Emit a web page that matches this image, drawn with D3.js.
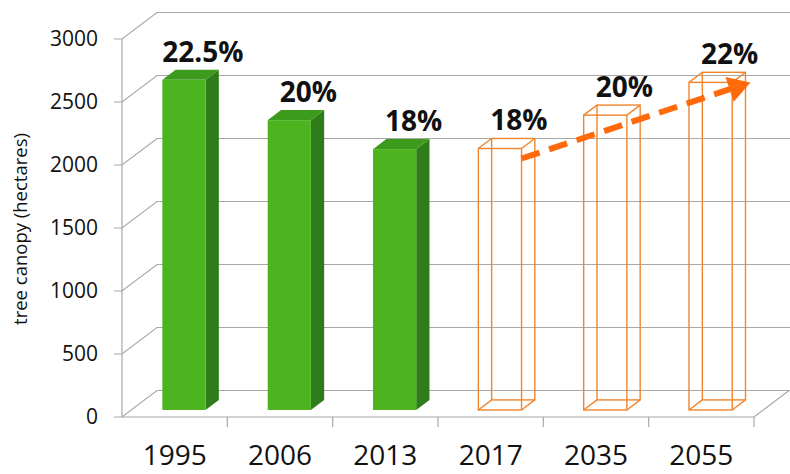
<!DOCTYPE html>
<html>
<head>
<meta charset="utf-8">
<script src="https://cdn.jsdelivr.net/npm/d3@7"></script>
<style>
  body { margin: 0; background: #fff; }
  text { font-family: "Open Sans", sans-serif; fill: #111; }
</style>
</head>
<body>
<div id="chart"></div>
<script>
// chart values
var years = ["1995", "2006", "2013", "2017", "2035", "2055"];
var canopy = [2620, 2300, 2070, 2075, 2340, 2600];
var shares = ["22.5%", "20%", "18%", "18%", "20%", "22%"];
var projected = [false, false, false, true, true, true];
var yTicks = [0, 500, 1000, 1500, 2000, 2500, 3000];
var yTitle = "tree canopy (hectares)";

var width = 790, height = 474;

var svg = d3.select("#chart").append("svg")
    .attr("width", width)
    .attr("height", height);

var x = d3.scaleBand().domain(years)
    .range([122, 754])
    .paddingInner(0.59)
    .paddingOuter(0.295);

var y = d3.scaleLinear().domain([0, 3000]).range([417, 39]);

// depth of the 3d wall and of each bar
var DX = 35, DY = -26.5;
var ox = DX * 0.265, oy = DY * 0.265;
var bx = DX * 0.38, by = DY * 0.38;

var grid = "#a8a8a8";

// back wall gridlines
svg.append("g").selectAll("path")
    .data(yTicks)
    .enter().append("path")
    .attr("d", d => `M114,${y(d)} L122,${y(d)} L${122 + DX},${y(d) + DY} L${width},${y(d) + DY}`)
    .attr("fill", "none")
    .attr("stroke", grid)
    .attr("stroke-width", 1.2);

// front vertical axis
svg.append("line")
    .attr("x1", 122).attr("x2", 122)
    .attr("y1", y(3000)).attr("y2", y(0))
    .attr("stroke", grid).attr("stroke-width", 1.2);

// floor front edge + right diagonal
svg.append("path")
    .attr("d", `M122,${y(0)} L754,${y(0)} L${754 + DX},${y(0) + DY}`)
    .attr("fill", "none")
    .attr("stroke", grid).attr("stroke-width", 1.2);

// category ticks
svg.append("g").selectAll("line")
    .data(years)
    .enter().append("line")
    .attr("x1", d => x(d) - x.step() * x.paddingOuter() + x.step())
    .attr("x2", d => x(d) - x.step() * x.paddingOuter() + x.step())
    .attr("y1", y(0)).attr("y2", y(0) + 10)
    .attr("stroke", grid).attr("stroke-width", 1.2);

// y tick labels
svg.append("g").selectAll("text")
    .data(yTicks)
    .enter().append("text")
    .attr("x", 98)
    .attr("y", d => y(d))
    .attr("dy", "0.35em")
    .attr("text-anchor", "end")
    .style("font-size", "21px")
    .text(d => d);

// y title
svg.append("text")
    .attr("transform", "translate(27,229) rotate(-90)")
    .attr("text-anchor", "middle")
    .style("font-size", "18.5px")
    .text(yTitle);

// x labels
svg.append("g").selectAll("text")
    .data(years)
    .enter().append("text")
    .attr("x", d => x(d) + x.bandwidth() / 2)
    .attr("y", 465)
    .attr("text-anchor", "middle")
    .style("font-size", "28px")
    .text(d => d);

var w = x.bandwidth();
var bars = svg.append("g");

years.forEach(function(yr, i) {
    var x0 = x(yr) + ox;
    var yb = y(0) + oy;
    var yt = y(canopy[i]) + oy;
    var g = bars.append("g");
    if (!projected[i]) {
        g.append("polygon")
            .attr("points", [[x0 + w, yt], [x0 + w + bx, yt + by], [x0 + w + bx, yb + by], [x0 + w, yb]].join(" "))
            .attr("fill", "#2f7d1a");
        g.append("polygon")
            .attr("points", [[x0, yt], [x0 + bx, yt + by], [x0 + w + bx, yt + by], [x0 + w, yt]].join(" "))
            .attr("fill", "#3c9a1d");
        g.append("rect")
            .attr("x", x0).attr("y", yt)
            .attr("width", w).attr("height", yb - yt)
            .attr("fill", "#4cb41f");
    } else {
        var s = "#f0852d";
        var box = function(dx, dy) {
            g.append("rect")
                .attr("x", x0 + dx).attr("y", yt + dy)
                .attr("width", w).attr("height", yb - yt)
                .attr("fill", "none").attr("stroke", s).attr("stroke-width", 1.4);
        };
        box(bx, by);
        box(0, 0);
        [[x0, yt], [x0 + w, yt], [x0, yb], [x0 + w, yb]].forEach(function(p) {
            g.append("line")
                .attr("x1", p[0]).attr("y1", p[1])
                .attr("x2", p[0] + bx).attr("y2", p[1] + by)
                .attr("stroke", s).attr("stroke-width", 1.4);
        });
    }
    g.append("text")
        .attr("x", x0 + w / 2 + 19)
        .attr("y", yt + by - 8)
        .attr("text-anchor", "middle")
        .style("font-size", "28px")
        .style("font-weight", "bold")
        .text(shares[i]);
});

// trend arrow from 2017 to 2055
var a0 = [x(years[3]) + ox + w, y(canopy[3]) + oy + 10];
var a1 = [x(years[5]) + ox + w + bx + 5, y(canopy[5]) + oy];
var ang = Math.atan2(a1[1] - a0[1], a1[0] - a0[0]);
var headLen = 22, headW = 13;
var hb = [a1[0] - headLen * Math.cos(ang), a1[1] - headLen * Math.sin(ang)];

svg.append("line")
    .attr("x1", a0[0]).attr("y1", a0[1])
    .attr("x2", hb[0] + 3 * Math.cos(ang)).attr("y2", hb[1] + 3 * Math.sin(ang))
    .attr("stroke", "#ff6a0a")
    .attr("stroke-width", 6)
    .attr("stroke-dasharray", "19,10");

svg.append("polygon")
    .attr("points", [
        a1,
        [hb[0] + headW * Math.sin(ang), hb[1] - headW * Math.cos(ang)],
        [hb[0] - headW * Math.sin(ang), hb[1] + headW * Math.cos(ang)]
    ].join(" "))
    .attr("fill", "#ff6a0a");
</script>
</body>
</html>
